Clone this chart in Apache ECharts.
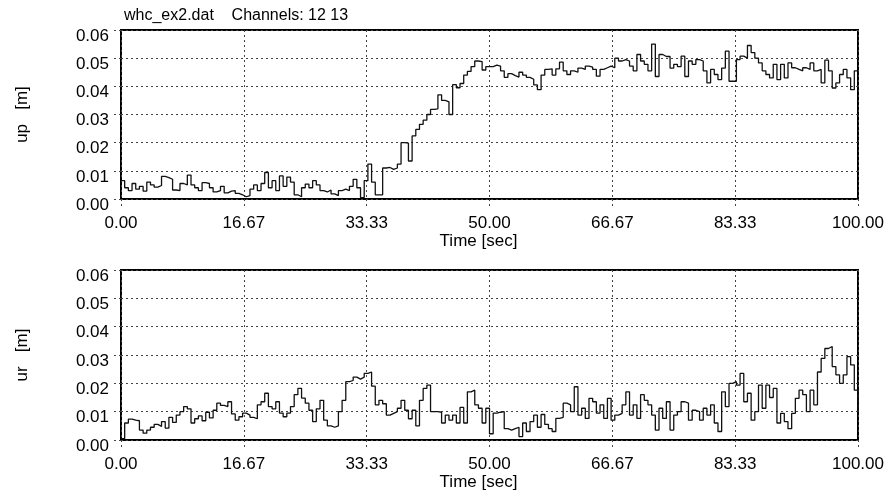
<!DOCTYPE html>
<html>
<head>
<meta charset="utf-8">
<script src="https://cdn.jsdelivr.net/npm/echarts@6/dist/echarts.min.js"></script>
<style>
  html, body { margin: 0; padding: 0; background: #fff; }
  #main { width: 889px; height: 492px; }
</style>
</head>
<body>
<div id="main"></div>
<script>
// sample interval of the record [sec]
var sampleStep = 0.5;

// channel 12 : up [m]
var upValues = [
  0.0065, 0.0040, 0.0030, 0.0055, 0.0035, 0.0045, 0.0028, 0.0060, 0.0050, 0.0042,
  0.0048, 0.0080, 0.0076, 0.0070, 0.0032, 0.0030, 0.0055, 0.0050, 0.0085, 0.0050,
  0.0040, 0.0030, 0.0058, 0.0055, 0.0040, 0.0025, 0.0030, 0.0045, 0.0022, 0.0028,
  0.0030, 0.0020, 0.0015, 0.0008, 0.0012, 0.0035, 0.0050, 0.0030, 0.0055, 0.0094,
  0.0040, 0.0065, 0.0030, 0.0082, 0.0045, 0.0078, 0.0060, 0.0015, 0.0008, 0.0040,
  0.0053, 0.0040, 0.0065, 0.0050, 0.0030, 0.0025, 0.0032, 0.0018, 0.0012, 0.0030,
  0.0035, 0.0030, 0.0045, 0.0070, 0.0040, 0.0005, 0.0065, 0.0124, 0.0060, 0.0015,
  0.0015, 0.0110, 0.0112, 0.0105, 0.0110, 0.0124, 0.0200, 0.0198, 0.0135, 0.0224,
  0.0247, 0.0265, 0.0280, 0.0300, 0.0318, 0.0320, 0.0370, 0.0350, 0.0345, 0.0300,
  0.0406, 0.0395, 0.0410, 0.0440, 0.0453, 0.0470, 0.0490, 0.0488, 0.0458, 0.0470,
  0.0470, 0.0475, 0.0472, 0.0455, 0.0432, 0.0445, 0.0438, 0.0433, 0.0450, 0.0440,
  0.0432, 0.0425, 0.0405, 0.0388, 0.0440, 0.0460, 0.0462, 0.0440, 0.0462, 0.0486,
  0.0455, 0.0442, 0.0455, 0.0450, 0.0465, 0.0460, 0.0472, 0.0468, 0.0460, 0.0436,
  0.0460, 0.0466, 0.0472, 0.0466, 0.0500, 0.0490, 0.0495, 0.0490, 0.0472, 0.0455,
  0.0513, 0.0490, 0.0478, 0.0455, 0.0550, 0.0435, 0.0513, 0.0506, 0.0506, 0.0465,
  0.0478, 0.0470, 0.0507, 0.0435, 0.0490, 0.0478, 0.0495, 0.0490, 0.0455, 0.0412,
  0.0460, 0.0442, 0.0424, 0.0465, 0.0525, 0.0418, 0.0418, 0.0495, 0.0507, 0.0500,
  0.0545, 0.0520, 0.0500, 0.0483, 0.0455, 0.0442, 0.0430, 0.0478, 0.0424, 0.0478,
  0.0430, 0.0483, 0.0466, 0.0460, 0.0455, 0.0466, 0.0460, 0.0483, 0.0455, 0.0460,
  0.0412, 0.0493, 0.0455, 0.0394, 0.0412, 0.0442, 0.0460, 0.0430, 0.0388, 0.0455,
  0.0445
];

// channel 13 : ur [m]
var urValues = [
  0.0005, 0.0060, 0.0074, 0.0070, 0.0068, 0.0035, 0.0024, 0.0035, 0.0045, 0.0055,
  0.0048, 0.0065, 0.0042, 0.0080, 0.0062, 0.0088, 0.0100, 0.0118, 0.0110, 0.0060,
  0.0075, 0.0085, 0.0068, 0.0098, 0.0078, 0.0105, 0.0130, 0.0122, 0.0118, 0.0135,
  0.0092, 0.0070, 0.0082, 0.0095, 0.0088, 0.0080, 0.0075, 0.0124, 0.0135, 0.0165,
  0.0118, 0.0110, 0.0135, 0.0095, 0.0082, 0.0095, 0.0118, 0.0160, 0.0182, 0.0148,
  0.0130, 0.0105, 0.0065, 0.0110, 0.0140, 0.0070, 0.0050, 0.0045, 0.0050, 0.0100,
  0.0140, 0.0206, 0.0210, 0.0222, 0.0215, 0.0222, 0.0235, 0.0240, 0.0190, 0.0124,
  0.0140, 0.0128, 0.0088, 0.0094, 0.0100, 0.0112, 0.0140, 0.0105, 0.0075, 0.0105,
  0.0050, 0.0140, 0.0182, 0.0194, 0.0100, 0.0100, 0.0098, 0.0060, 0.0088, 0.0070,
  0.0088, 0.0060, 0.0115, 0.0060, 0.0170, 0.0176, 0.0124, 0.0112, 0.0060, 0.0112,
  0.0022, 0.0095, 0.0098, 0.0100, 0.0040, 0.0035, 0.0040, 0.0045, 0.0012, 0.0060,
  0.0030, 0.0065, 0.0088, 0.0045, 0.0090, 0.0055, 0.0040, 0.0030, 0.0076, 0.0080,
  0.0130, 0.0124, 0.0100, 0.0188, 0.0088, 0.0112, 0.0076, 0.0147, 0.0135, 0.0095,
  0.0124, 0.0076, 0.0147, 0.0070, 0.0088, 0.0094, 0.0124, 0.0170, 0.0088, 0.0124,
  0.0076, 0.0160, 0.0140, 0.0124, 0.0088, 0.0035, 0.0112, 0.0076, 0.0135, 0.0035,
  0.0088, 0.0100, 0.0135, 0.0130, 0.0070, 0.0105, 0.0100, 0.0070, 0.0112, 0.0088,
  0.0124, 0.0060, 0.0030, 0.0170, 0.0118, 0.0200, 0.0206, 0.0194, 0.0235, 0.0135,
  0.0165, 0.0070, 0.0100, 0.0194, 0.0112, 0.0194, 0.0150, 0.0182, 0.0060, 0.0094,
  0.0065, 0.0040, 0.0094, 0.0147, 0.0176, 0.0160, 0.0100, 0.0176, 0.0124, 0.0240,
  0.0288, 0.0323, 0.0330, 0.0259, 0.0230, 0.0200, 0.0230, 0.0294, 0.0265, 0.0176,
  0.0100
];

var yTicks = { min: 0, max: 0.06, interval: 0.01 };
var xTicks = { min: 0, max: 100, interval: 100 / 6 };

function toPairs(values) {
  return values.map(function (v, i) { return [i * sampleStep, v]; });
}

var chart = echarts.init(document.getElementById('main'), null, { renderer: 'canvas' });

var font = 'Liberation Sans, Arial, sans-serif';
var dotted = { color: '#444', width: 1, type: [2, 3] };

function makeX(gridIndex) {
  return {
    type: 'value',
    gridIndex: gridIndex,
    min: xTicks.min,
    max: xTicks.max,
    interval: xTicks.interval,
    name: 'Time [sec]',
    nameLocation: 'middle',
    nameGap: 28,
    nameTextStyle: { color: '#000', fontSize: 17, fontFamily: font, padding: [0, 22, 0, 0] },
    axisLine: { show: false },
    axisTick: { show: true, inside: false, length: 7, lineStyle: dotted },
    axisLabel: {
      color: '#000', fontSize: 17, fontFamily: font, margin: 16,
      formatter: function (v) { return v.toFixed(2); }
    },
    splitLine: { show: true, lineStyle: dotted }
  };
}

function makeY(gridIndex, name) {
  return {
    type: 'value',
    gridIndex: gridIndex,
    min: yTicks.min,
    max: yTicks.max,
    interval: yTicks.interval,
    name: name,
    nameLocation: 'middle',
    nameRotate: 90,
    nameGap: 90,
    nameTextStyle: { color: '#000', fontSize: 17, fontFamily: font },
    axisLine: { show: false },
    axisTick: { show: true, inside: false, length: 8, lineStyle: dotted },
    axisLabel: {
      color: '#000', fontSize: 17, fontFamily: font, margin: 12,
      verticalAlign: 'top', lineHeight: 12,
      formatter: function (v) { return v.toFixed(2); }
    },
    splitLine: { show: true, lineStyle: dotted }
  };
}

var option = {
  backgroundColor: '#fff',
  animation: false,
  title: {
    text: 'whc_ex2.dat    Channels: 12 13',
    left: 119,
    top: 3,
    textStyle: { color: '#000', fontSize: 16, fontWeight: 'normal', fontFamily: font }
  },
  grid: [
    { left: 121, top: 30, width: 737, height: 169, show: true, borderColor: '#000', borderWidth: 2, backgroundColor: 'transparent' },
    { left: 121, top: 270, width: 737, height: 170, show: true, borderColor: '#000', borderWidth: 2, backgroundColor: 'transparent' }
  ],
  xAxis: [makeX(0), makeX(1)],
  yAxis: [makeY(0, 'up   [m]'), makeY(1, 'ur   [m]')],
  series: [
    {
      name: 'up', type: 'line', step: 'end', xAxisIndex: 0, yAxisIndex: 0,
      showSymbol: false, data: toPairs(upValues),
      lineStyle: { color: '#111', width: 1.3 }
    },
    {
      name: 'ur', type: 'line', step: 'end', xAxisIndex: 1, yAxisIndex: 1,
      showSymbol: false, data: toPairs(urValues),
      lineStyle: { color: '#111', width: 1.3 }
    }
  ]
};

chart.setOption(option);
</script>
</body>
</html>
